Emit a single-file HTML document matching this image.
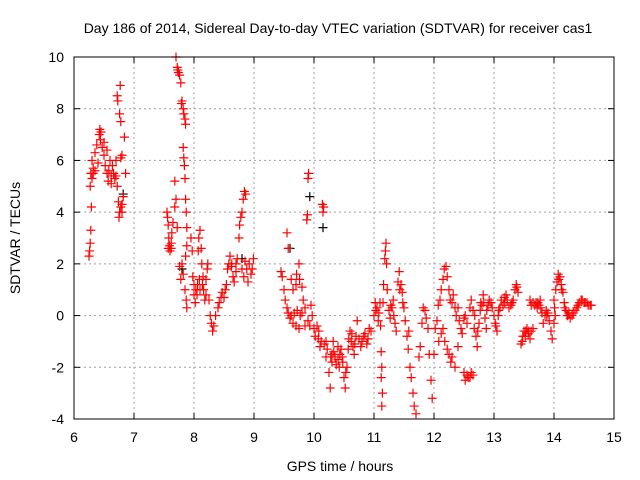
<!DOCTYPE html>
<html><head><meta charset="utf-8"><style>
body{margin:0;background:#fff}
svg{display:block;font-family:"Liberation Sans",sans-serif}
</style></head><body>
<svg id="chart" width="640" height="480" viewBox="0 0 640 480">
<rect width="640" height="480" fill="#fff"/>
<text x="338" y="33" font-size="14" text-anchor="middle">Day 186 of 2014, Sidereal Day-to-day VTEC variation (SDTVAR) for receiver cas1</text>
<g id="grid"></g>
<g id="axes"></g>
<g id="marks"></g>
<rect x="74" y="57" width="540" height="362" fill="none" stroke="#000" stroke-width="1"/>
<text x="340" y="471" font-size="14" text-anchor="middle">GPS time / hours</text>
<text transform="translate(20,238) rotate(-90)" font-size="14" text-anchor="middle">SDTVAR / TECUs</text>
</svg>
<script>
const xTicks=[6,7,8,9,10,11,12,13,14,15];
const yTicks=[-4,-2,0,2,4,6,8,10];
const redPoints=[
[6.25,2.3],[6.26,2.5],[6.27,2.8],[6.28,3.3],[6.29,4.2],[6.27,5.0],[6.28,5.5],[6.3,5.3],[6.3,6.0],[6.32,5.7],[6.35,6.3],[6.38,6.6],[6.42,7.0],[6.43,7.2],[6.44,6.8],[6.47,6.5],[6.5,6.2],[6.52,5.8],[6.55,5.5],[6.57,5.2],[6.58,5.6],[6.62,5.4],[6.64,5.8],[6.66,5.5],[6.68,5.3],[6.72,8.5],[6.73,8.3],[6.77,8.9],[6.76,7.8],[6.78,7.5],[6.7,6.0],[6.72,5.0],[6.74,4.4],[6.76,4.0],[6.75,3.8],[6.78,4.2],[6.8,4.3],[6.82,4.6],[6.8,6.2],[6.78,6.1],[6.84,6.9],[6.86,5.5],[6.6,6.0],[6.55,6.4],[6.35,5.6],[6.4,5.9],[6.45,7.1],[6.5,6.7],[6.32,5.5],[6.62,5.1],[6.7,5.4],[6.8,4.0],
[7.55,4.0],[7.56,3.8],[7.57,3.5],[7.58,3.0],[7.59,2.7],[7.6,2.5],[7.62,2.6],[7.63,3.2],[7.65,3.6],[7.68,4.2],[7.7,4.5],[7.68,5.2],[7.72,3.4],[7.7,10.0],[7.72,9.6],[7.74,9.4],[7.76,9.3],[7.78,9.0],[7.8,8.3],[7.82,8.0],[7.83,7.8],[7.85,7.6],[7.86,7.4],[7.82,6.5],[7.84,5.8],[7.83,6.1],[7.85,5.3],[7.86,4.5],[7.87,4.0],[7.88,3.4],[7.88,2.7],[7.86,2.3],[7.8,2.0],[7.82,1.6],[7.85,1.0],[7.87,0.6],[7.88,0.3],[7.78,1.4],[7.73,9.5],[7.79,8.2],[7.57,2.6],[7.62,2.8],[7.76,1.9],
[7.95,3.0],[7.97,2.5],[7.98,1.5],[8.0,0.8],[8.02,0.5],[8.05,0.8],[8.06,1.2],[8.07,2.5],[8.08,3.0],[8.1,3.3],[8.12,2.6],[8.13,2.0],[8.15,1.5],[8.16,1.0],[8.18,0.6],[8.2,1.4],[8.22,1.8],[8.23,2.0],[8.25,0.6],[8.27,0.0],[8.29,-0.3],[8.31,-0.6],[8.33,-0.4],[8.4,0.3],[8.42,0.5],[8.45,0.7],[8.5,0.7],[8.52,1.0],[8.54,1.2],[8.56,1.8],[8.58,2.0],[8.6,2.3],[8.62,1.9],[8.65,1.5],[8.67,1.3],[8.7,2.0],[8.72,2.2],[8.75,3.0],[8.76,3.5],[8.78,3.8],[8.8,4.0],[8.82,4.5],[8.84,4.8],[8.86,4.7],[8.8,1.8],[8.83,1.5],[8.9,1.3],[8.92,2.0],[8.97,1.8],[8.99,2.2],[8.0,1.2],[8.1,1.0],[8.2,0.8],[8.03,1.0],[8.09,1.4],[8.14,1.2],[8.36,0.0],[8.47,0.9],[8.63,2.0],[8.7,1.7],[8.85,2.1],[8.95,1.6],[8.88,1.8],
[9.45,1.7],[9.47,1.5],[9.5,1.0],[9.52,0.6],[9.55,0.3],[9.57,0.1],[9.6,-0.1],[9.62,0.0],[9.65,-0.3],[9.67,0.1],[9.7,-0.4],[9.72,0.2],[9.75,-0.5],[9.77,0.0],[9.8,0.1],[9.85,-0.4],[9.55,3.2],[9.57,2.6],[9.62,1.4],[9.65,1.0],[9.7,1.2],[9.71,1.6],[9.75,2.0],[9.76,1.4],[9.8,1.1],[9.82,0.6],[9.85,0.3],[9.88,3.7],[9.89,3.9],[9.9,5.3],[9.91,5.5],[9.95,0.4],[9.97,0.0],[10.0,-0.5],[10.02,-0.8],[10.05,-0.4],[10.07,-0.9],[10.1,-1.2],[10.12,-1.0],[10.14,4.3],[10.15,4.0],[10.16,4.2],[10.2,-1.6],[10.25,-2.2],[10.27,-2.8],[10.3,-1.5],[10.32,-1.0],[10.35,-1.6],[10.4,-1.2],[10.42,-2.0],[10.45,-1.3],[10.47,-1.6],[10.5,-2.4],[10.52,-2.8],[10.55,-2.0],[10.57,-1.3],[10.6,-0.6],[10.62,-1.0],[10.65,-1.2],[10.67,-1.5],[10.7,-0.8],[10.72,-0.2],[10.8,-1.0],[10.85,-0.7],[10.9,-0.9],[10.92,-0.5],[10.2,-1.0],[10.3,-1.8],[10.4,-1.7],[10.17,-1.1],[10.22,-1.3],[10.28,-1.6],[10.33,-1.4],[10.37,-1.9],[10.43,-1.5],[10.48,-1.8],[10.53,-2.2],[10.58,-0.9],[10.63,-0.7],[10.68,-1.1],[10.75,-0.9],[10.78,-1.2],[10.83,-0.8],[10.88,-1.1],[10.95,-0.6],[9.9,-0.2],[9.93,-0.4],[10.08,-0.6],
[11.0,0.0],[11.02,0.5],[11.05,0.3],[11.07,-0.2],[11.1,0.5],[11.11,-0.4],[11.12,-1.4],[11.13,-2.0],[11.12,-2.4],[11.14,-3.0],[11.13,-3.5],[11.15,0.5],[11.16,1.2],[11.18,2.2],[11.19,2.5],[11.2,2.8],[11.21,2.0],[11.22,1.0],[11.25,0.2],[11.27,-0.1],[11.3,0.3],[11.32,0.6],[11.35,-0.3],[11.37,-0.6],[11.4,1.3],[11.42,1.7],[11.45,1.2],[11.47,0.9],[11.5,0.3],[11.52,-0.2],[11.55,-0.8],[11.57,-1.3],[11.6,-2.0],[11.62,-2.4],[11.65,-3.0],[11.67,-3.5],[11.7,-3.8],[11.75,-1.6],[11.77,-1.2],[11.8,-0.3],[11.82,0.3],[11.85,0.2],[11.87,-0.1],[11.9,-0.5],[11.92,-1.5],[11.95,-2.5],[11.97,-3.2],[12.0,-1.5],[12.02,-0.5],[12.05,-0.2],[12.07,0.4],[12.1,0.6],[12.12,1.0],[12.15,1.4],[12.17,1.8],[12.2,1.9],[12.22,1.5],[12.25,1.0],[12.27,0.6],[12.3,0.5],[12.32,0.8],[12.35,0.3],[12.37,0.0],[12.4,0.3],[12.45,-0.5],[12.47,-0.7],[12.5,-0.1],[12.52,0.0],[12.15,-0.5],[12.18,-1.0],[12.22,-1.3],[12.28,-1.8],[12.35,-2.0],[12.4,-1.2],[12.5,-2.2],[12.52,-2.5],[12.55,-2.3],[12.6,-2.4],[12.62,-2.2],[12.6,0.3],[12.62,0.6],[12.65,0.2],[12.67,-0.5],[12.7,-0.8],[12.72,-1.2],[12.75,-0.3],[12.77,0.2],[12.8,0.4],[12.82,0.8],[12.83,0.5],[12.85,-0.1],[12.87,-0.5],[12.9,0.4],[12.92,0.6],[12.95,0.5],[13.0,0.0],[13.02,-0.3],[13.05,-0.6],[13.07,0.0],[13.1,0.3],[13.12,0.6],[13.15,0.4],[13.17,0.7],[13.2,0.8],[13.22,0.6],[13.25,0.3],[13.3,0.5],[13.35,1.0],[13.37,1.2],[13.4,0.9],[13.45,-1.1],[13.47,-1.0],[13.5,-0.6],[13.52,-0.8],[13.55,-0.5],[13.57,-0.7],[13.6,-0.9],[13.62,-0.6],[13.65,-0.5],[13.6,0.6],[13.62,0.4],[13.7,0.5],[13.72,0.3],[13.75,0.4],[13.77,0.6],[13.8,0.1],[13.82,-0.3],[13.85,0.0],[13.87,0.2],[13.9,0.1],[13.95,-0.6],[13.97,-0.9],[14.0,-0.3],[14.02,0.0],[14.0,0.6],[14.01,0.3],[14.05,1.3],[14.07,1.6],[14.1,1.5],[14.12,1.2],[14.15,0.9],[14.17,0.5],[14.2,0.2],[14.22,0.0],[14.25,0.1],[14.27,-0.1],[14.3,0.0],[14.35,0.2],[14.4,0.4],[14.42,0.5],[14.45,0.6],[14.5,0.5],[14.55,0.5],[14.57,0.4],[14.6,0.4],
[11.03,0.2],[11.08,0.1],[11.28,0.4],[11.33,0.0],[11.43,1.0],[11.48,0.5],[11.58,-0.6],[12.08,-1.0],[12.12,-0.7],[12.25,-1.5],[12.3,-1.6],[12.42,-0.2],[12.55,-0.3],[12.57,-2.4],[12.65,-2.3],[12.68,0.0],[12.73,-0.6],[12.78,0.5],[12.88,0.2],[12.97,0.3],[13.03,-0.4],[13.08,0.2],[13.18,0.5],[13.28,0.4],[13.32,0.6],[13.38,1.1],[13.48,-0.8],[13.53,-0.6],[13.58,-0.6],[13.65,0.5],[13.68,0.4],[13.73,0.5],[13.78,0.3],[13.88,0.0],[13.92,-0.2],[14.03,1.0],[14.08,1.4],[14.13,1.0],[14.18,0.3],[14.23,0.0],[14.32,0.1],[14.38,0.3],[14.47,0.6],[14.52,0.5],[14.62,0.4]
];
const blackPoints=[[6.82,4.7],[7.8,1.8],[8.8,2.2],[9.93,4.6],[10.15,3.4],[9.6,2.6]];
const redT=redPoints.map(p=>p[0]), redV=redPoints.map(p=>p[1]);
const blkT=blackPoints.map(p=>p[0]), blkV=blackPoints.map(p=>p[1]);

const X0=74,X1=614,Y0=419,Y1=57;
const sx=t=>X0+(t-6)/(15-6)*(X1-X0);
const sy=v=>Y0-(v+4)/(10+4)*(Y0-Y1);
const NS="http://www.w3.org/2000/svg";
const grid=document.getElementById('grid'),axes=document.getElementById('axes'),marks=document.getElementById('marks');
function mk(tag,attrs,parent){const e=document.createElementNS(NS,tag);for(const k in attrs)e.setAttribute(k,attrs[k]);parent.appendChild(e);return e;}
xTicks.forEach(t=>{
  const x=sx(t);
  if(t>6&&t<15){const g=mk('line',{x1:x,x2:x,y1:Y1,y2:Y0,stroke:'#a0a0a0','stroke-dasharray':'2,3'},grid);
  
  }
  mk('line',{x1:x,x2:x,y1:Y0,y2:Y0-6,stroke:'#000'},axes);
  mk('line',{x1:x,x2:x,y1:Y1,y2:Y1+6,stroke:'#000'},axes);
  const l=mk('text',{x:x,y:442,'font-size':14,'text-anchor':'middle'},axes);
  l.textContent=t;
  
  
});
yTicks.forEach(v=>{
  const y=sy(v);
  if(v>-4&&v<10){const g=mk('line',{x1:X0,x2:X1,y1:y,y2:y,stroke:'#a0a0a0','stroke-dasharray':'2,3'},grid);
  
  }
  mk('line',{x1:X0,x2:X0+6,y1:y,y2:y,stroke:'#000'},axes);
  mk('line',{x1:X1,x2:X1-6,y1:y,y2:y,stroke:'#000'},axes);
  const l=mk('text',{x:64,y:y+5,'font-size':14,'text-anchor':'end'},axes);
  l.textContent=v;
  
  
});
function plus(t,v,color,name){
  const x=sx(t),y=sy(v);
  const p=mk('path',{d:`M${x-4.5},${y}H${x+4.5}M${x},${y-4.5}V${y+4.5}`,stroke:color,'stroke-width':1.2,fill:'none'},marks);
  
  
}
blkT.forEach((t,i)=>plus(t,blkV[i],'#000','black-point'));
redT.forEach((t,i)=>plus(t,redV[i],'#ff0000','red-point'));
</script>
</body></html>
